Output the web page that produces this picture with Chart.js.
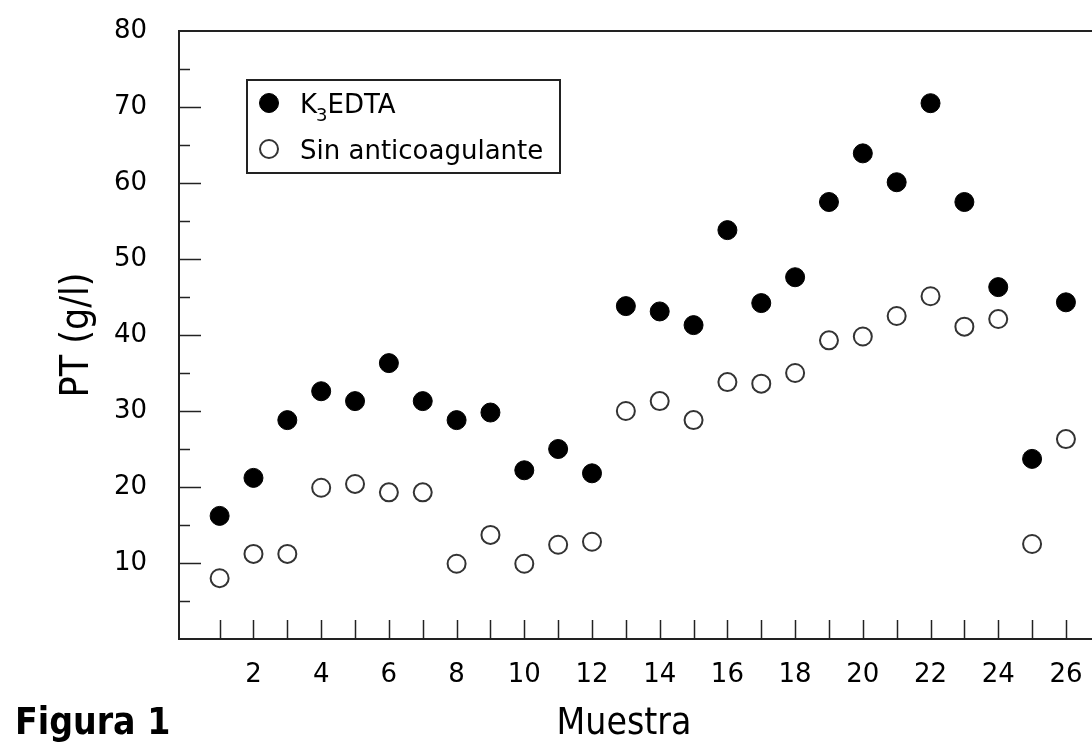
<!DOCTYPE html>
<html>
<head>
<meta charset="utf-8">
<title>Figura 1</title>
<script src="https://cdn.jsdelivr.net/npm/chart.js@4.4.1/dist/chart.umd.min.js"></script>
<style>
  html, body { margin: 0; padding: 0; background: #fff; overflow: hidden; }
  #wrap { width: 1092px; height: 742px; }
</style>
</head>
<body>
<div id="wrap"><canvas id="ptChart" width="1092" height="742"></canvas></div>
<script>
// Valores
const muestra = [1, 2, 3, 4, 5, 6, 7, 8, 9, 10, 11, 12, 13, 14, 15, 16, 17, 18, 19, 20, 21, 22, 23, 24, 25, 26];
const k3edta = [16.2, 21.2, 28.8, 32.6, 31.3, 36.3, 31.3, 28.8, 29.8, 22.2, 25.0, 21.8, 43.8, 43.1, 41.3, 53.8, 44.2, 47.6, 57.5, 63.9, 60.1, 70.5, 57.5, 46.3, 23.7, 44.3];
const sinAnticoagulante = [8.0, 11.2, 11.2, 19.9, 20.4, 19.3, 19.3, 9.9, 13.7, 9.9, 12.4, 12.8, 30.0, 31.3, 28.8, 33.8, 33.6, 35.0, 39.3, 39.8, 42.5, 45.1, 41.1, 42.1, 12.5, 26.3];
const yTickLabels = [10, 20, 30, 40, 50, 60, 70, 80];
const xTickLabels = [2, 4, 6, 8, 10, 12, 14, 16, 18, 20, 22, 24, 26];

const FONT = "'DejaVu Sans', sans-serif";
const FONT_COND = "'DejaVu Sans Condensed', 'DejaVu Sans', sans-serif";
const INK = '#222';

Chart.defaults.font.family = FONT;
Chart.defaults.color = '#000';

const toPoints = vals => muestra.map((m, i) => ({ x: m, y: vals[i] }));

// tick marks drawn inward, top frame line, legend box and the loose texts
const frameAndLegend = {
  id: 'frameAndLegend',
  afterDraw(chart) {
    const ctx = chart.ctx;
    const area = chart.chartArea;
    const xs = chart.scales.x;
    const ys = chart.scales.y;
    ctx.save();
    ctx.strokeStyle = INK;
    ctx.lineWidth = 2;

    // top frame line
    ctx.beginPath();
    ctx.moveTo(area.left - 1, area.top);
    ctx.lineTo(chart.width, area.top);
    ctx.stroke();

    // x ticks (every sample)
    ctx.lineWidth = 1.5;
    xs.ticks.forEach(t => {
      const v = Math.round(t.value);
      if (Math.abs(t.value - v) > 1e-6 || v < 1) return;
      const px = Math.round(xs.getPixelForValue(v)) + 0.5;
      ctx.beginPath();
      ctx.moveTo(px, area.bottom);
      ctx.lineTo(px, area.bottom - 19);
      ctx.stroke();
    });

    // y ticks, major every 10, minor every 5
    ys.ticks.forEach(t => {
      if (t.value <= 0 || t.value >= 80) return;
      const len = t.value % 10 === 0 ? 22 : 11;
      const py = Math.round(ys.getPixelForValue(t.value)) + 0.5;
      ctx.beginPath();
      ctx.moveTo(area.left, py);
      ctx.lineTo(area.left + len, py);
      ctx.stroke();
    });

    // legend box
    ctx.lineWidth = 2;
    ctx.strokeRect(247, 80, 313, 93);
    const sets = chart.data.datasets;
    const rows = [103, 149];
    sets.forEach((ds, i) => {
      ctx.beginPath();
      ctx.arc(269, rows[i], ds.pointRadius, 0, Math.PI * 2);
      ctx.fillStyle = ds.pointBackgroundColor;
      ctx.fill();
      ctx.lineWidth = ds.pointBorderWidth;
      ctx.strokeStyle = ds.pointBorderColor;
      ctx.stroke();
    });
    ctx.fillStyle = '#000';
    ctx.textAlign = 'left';
    ctx.textBaseline = 'alphabetic';
    // K3EDTA with subscript
    ctx.font = '26px ' + FONT;
    ctx.fillText('K', 300, 113);
    let w = ctx.measureText('K').width;
    ctx.font = '18px ' + FONT;
    ctx.fillText('3', 300 + w - 1, 121);
    w += ctx.measureText('3').width - 1;
    ctx.font = '26px ' + FONT;
    ctx.fillText('EDTA', 300 + w, 113);
    ctx.fillText(sets[1].label, 300, 159);

    // x axis title and figure caption
    ctx.font = '37px ' + FONT_COND;
    ctx.textAlign = 'center';
    ctx.fillText('Muestra', 624, 734);
    ctx.font = 'bold 37px ' + FONT_COND;
    ctx.textAlign = 'left';
    ctx.fillText('Figura 1', 15, 734);
    ctx.restore();
  }
};

const ctx = document.getElementById('ptChart').getContext('2d');
const ptChart = new Chart(ctx, {
  type: 'scatter',
  data: {
    datasets: [{
      label: 'K3EDTA',
      data: toPoints(k3edta),
      pointRadius: 9.5,
      pointBackgroundColor: '#000',
      pointBorderColor: '#000',
      pointBorderWidth: 1
    }, {
      label: 'Sin anticoagulante',
      data: toPoints(sinAnticoagulante),
      pointRadius: 9,
      pointBackgroundColor: '#fff',
      pointBorderColor: '#333',
      pointBorderWidth: 2
    }]
  },
  options: {
    responsive: false,
    animation: false,
    events: [],
    devicePixelRatio: 1,
    layout: { autoPadding: false, padding: { top: 31, right: 0, bottom: 0, left: 0 } },
    plugins: {
      legend: { display: false },
      tooltip: { enabled: false }
    },
    scales: {
      x: {
        type: 'linear',
        min: -0.2,
        max: 26.77,
        grid: { display: false, drawTicks: false },
        border: { display: true, color: INK, width: 2 },
        ticks: {
          stepSize: 1,
          includeBounds: false,
          autoSkip: false,
          maxRotation: 0,
          padding: 21,
          font: { size: 26 },
          color: '#000',
          callback: v => xTickLabels.includes(Math.round(v)) && Math.abs(v - Math.round(v)) < 1e-6 ? String(Math.round(v)) : ''
        },
        afterFit: s => { s.height = 103; s.paddingLeft = 0; s.paddingRight = 0; }
      },
      y: {
        min: 0,
        max: 80,
        grid: { display: false, drawTicks: false },
        border: { display: true, color: INK, width: 2 },
        ticks: {
          stepSize: 5,
          padding: 32,
          font: { size: 26 },
          color: '#000',
          callback: v => yTickLabels.includes(v) ? String(v) : ''
        },
        title: {
          display: true,
          text: 'PT (g/l)',
          color: '#000',
          font: { size: 39, family: FONT_COND },
          padding: { top: 54, bottom: 0 }
        },
        afterFit: s => { s.width = 179; s.paddingTop = 0; s.paddingBottom = 0; }
      }
    }
  },
  plugins: [frameAndLegend]
});
</script>
</body>
</html>
